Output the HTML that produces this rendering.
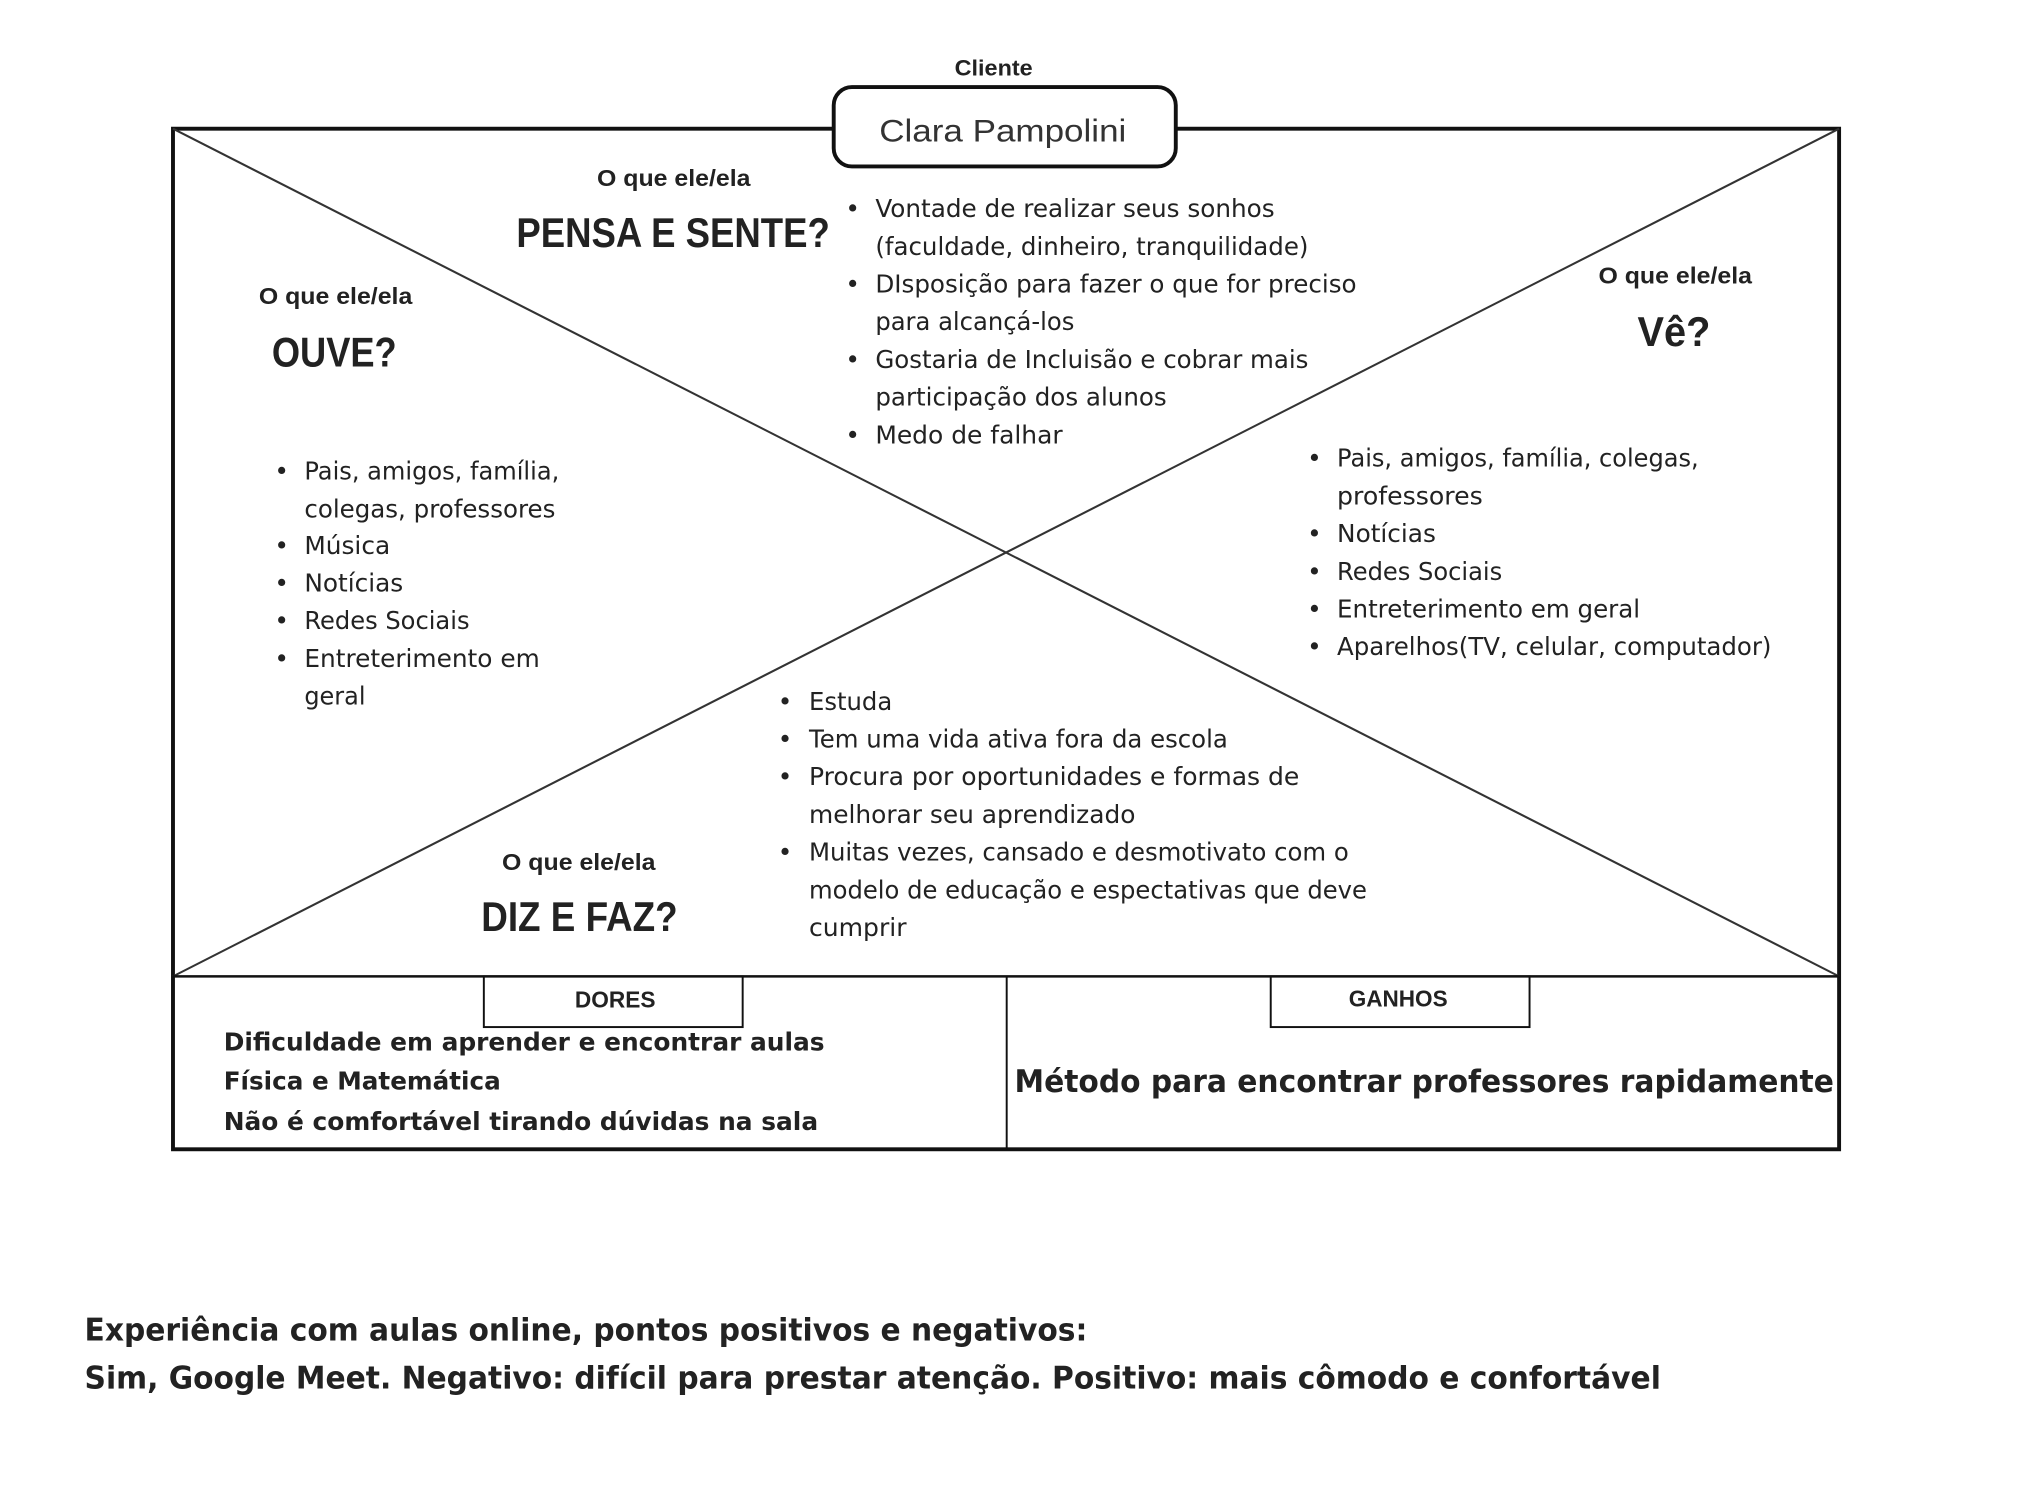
<!DOCTYPE html>
<html><head><meta charset="utf-8"><style>
html,body{margin:0;padding:0;background:#fff;}
svg{display:block;}
.h{font-family:"Liberation Sans",sans-serif;font-weight:bold;fill:#222;}
.s{font-family:"Liberation Sans",sans-serif;fill:#333;}
.b{font-family:"DejaVu Sans","Liberation Sans",sans-serif;fill:#222;font-size:19px;}
.bd{font-family:"DejaVu Sans","Liberation Sans",sans-serif;fill:#222;font-weight:bold;}
</style></head><body>
<svg width="2042" height="1499" viewBox="0 0 1570 1153" preserveAspectRatio="none" xmlns="http://www.w3.org/2000/svg">
<rect width="1570" height="1153" fill="#fff"/>
<g stroke="#111" fill="none">
<rect x="133" y="99" width="1281" height="785" stroke-width="3"/>
<line x1="133" y1="99" x2="1414" y2="751" stroke-width="1.6" stroke="#333"/>
<line x1="133" y1="751" x2="1414" y2="99" stroke-width="1.6" stroke="#333"/>
<line x1="133" y1="751" x2="1414" y2="751" stroke-width="2"/>
<line x1="774" y1="751" x2="774" y2="884" stroke-width="1.5"/>
<rect x="372" y="751" width="199" height="39" stroke-width="1.5"/>
<rect x="977" y="751" width="199" height="39" stroke-width="1.5"/>
<rect x="641" y="67" width="263" height="61" rx="14" fill="#fff" stroke-width="3"/>
</g>
<text class="h" x="764" y="58" font-size="17" text-anchor="middle" textLength="60" lengthAdjust="spacingAndGlyphs">Cliente</text>
<text class="s" x="771" y="109" font-size="24" text-anchor="middle" textLength="190" lengthAdjust="spacingAndGlyphs" fill="#222">Clara Pampolini</text>

<text class="h" x="459" y="143" font-size="18" textLength="118" lengthAdjust="spacingAndGlyphs">O que ele/ela</text>
<text class="h" x="397" y="190" font-size="32" textLength="241" lengthAdjust="spacingAndGlyphs">PENSA E SENTE?</text>
<text class="h" x="199" y="234" font-size="18" textLength="118" lengthAdjust="spacingAndGlyphs">O que ele/ela</text>
<text class="h" x="209" y="282" font-size="32" textLength="96" lengthAdjust="spacingAndGlyphs">OUVE?</text>
<text class="h" x="1229" y="218" font-size="18" textLength="118" lengthAdjust="spacingAndGlyphs">O que ele/ela</text>
<text class="h" x="1259" y="266" font-size="32" textLength="56" lengthAdjust="spacingAndGlyphs">Vê?</text>
<text class="h" x="386" y="669" font-size="18" textLength="118" lengthAdjust="spacingAndGlyphs">O que ele/ela</text>
<text class="h" x="370" y="716" font-size="32" textLength="151" lengthAdjust="spacingAndGlyphs">DIZ E FAZ?</text>
<text class="h" x="473" y="775" font-size="18" text-anchor="middle" textLength="62" lengthAdjust="spacingAndGlyphs" fill="#444">DORES</text>
<text class="h" x="1075" y="774" font-size="18" text-anchor="middle" textLength="76" lengthAdjust="spacingAndGlyphs" fill="#444">GANHOS</text>

<g class="b">
<text x="650" y="167">•</text><text x="673" y="167" textLength="307" lengthAdjust="spacingAndGlyphs">Vontade de realizar seus sonhos</text>
<text x="673" y="196" textLength="333" lengthAdjust="spacingAndGlyphs">(faculdade, dinheiro, tranquilidade)</text>
<text x="650" y="225">•</text><text x="673" y="225" textLength="370" lengthAdjust="spacingAndGlyphs">DIsposição para fazer o que for preciso</text>
<text x="673" y="254" textLength="153" lengthAdjust="spacingAndGlyphs">para alcançá-los</text>
<text x="650" y="283">•</text><text x="673" y="283" textLength="333" lengthAdjust="spacingAndGlyphs">Gostaria de Incluisão e cobrar mais</text>
<text x="673" y="312" textLength="224" lengthAdjust="spacingAndGlyphs">participação dos alunos</text>
<text x="650" y="341">•</text><text x="673" y="341" textLength="144" lengthAdjust="spacingAndGlyphs">Medo de falhar</text>

<text x="211" y="369">•</text><text x="234" y="369" textLength="196" lengthAdjust="spacingAndGlyphs">Pais, amigos, família,</text>
<text x="234" y="398" textLength="193" lengthAdjust="spacingAndGlyphs">colegas, professores</text>
<text x="211" y="426">•</text><text x="234" y="426" textLength="66" lengthAdjust="spacingAndGlyphs">Música</text>
<text x="211" y="455">•</text><text x="234" y="455" textLength="76" lengthAdjust="spacingAndGlyphs">Notícias</text>
<text x="211" y="484">•</text><text x="234" y="484" textLength="127" lengthAdjust="spacingAndGlyphs">Redes Sociais</text>
<text x="211" y="513">•</text><text x="234" y="513" textLength="181" lengthAdjust="spacingAndGlyphs">Entreterimento em</text>
<text x="234" y="542" textLength="47" lengthAdjust="spacingAndGlyphs">geral</text>

<text x="1005" y="359">•</text><text x="1028" y="359" textLength="278" lengthAdjust="spacingAndGlyphs">Pais, amigos, família, colegas,</text>
<text x="1028" y="388" textLength="112" lengthAdjust="spacingAndGlyphs">professores</text>
<text x="1005" y="417">•</text><text x="1028" y="417" textLength="76" lengthAdjust="spacingAndGlyphs">Notícias</text>
<text x="1005" y="446">•</text><text x="1028" y="446" textLength="127" lengthAdjust="spacingAndGlyphs">Redes Sociais</text>
<text x="1005" y="475">•</text><text x="1028" y="475" textLength="233" lengthAdjust="spacingAndGlyphs">Entreterimento em geral</text>
<text x="1005" y="504">•</text><text x="1028" y="504" textLength="334" lengthAdjust="spacingAndGlyphs">Aparelhos(TV, celular, computador)</text>

<text x="598" y="546">•</text><text x="622" y="546" textLength="64" lengthAdjust="spacingAndGlyphs">Estuda</text>
<text x="598" y="575">•</text><text x="622" y="575" textLength="322" lengthAdjust="spacingAndGlyphs">Tem uma vida ativa fora da escola</text>
<text x="598" y="604">•</text><text x="622" y="604" textLength="377" lengthAdjust="spacingAndGlyphs">Procura por oportunidades e formas de</text>
<text x="622" y="633" textLength="251" lengthAdjust="spacingAndGlyphs">melhorar seu aprendizado</text>
<text x="598" y="662">•</text><text x="622" y="662" textLength="415" lengthAdjust="spacingAndGlyphs">Muitas vezes, cansado e desmotivato com o</text>
<text x="622" y="691" textLength="429" lengthAdjust="spacingAndGlyphs">modelo de educação e espectativas que deve</text>
<text x="622" y="720" textLength="75" lengthAdjust="spacingAndGlyphs">cumprir</text>
</g>

<g class="bd" font-size="19">
<text x="172" y="808" textLength="462" lengthAdjust="spacingAndGlyphs">Dificuldade em aprender e encontrar aulas</text>
<text x="172" y="838" textLength="213" lengthAdjust="spacingAndGlyphs">Física e Matemática</text>
<text x="172" y="869" textLength="457" lengthAdjust="spacingAndGlyphs">Não é comfortável tirando dúvidas na sala</text>
</g>
<text class="bd" x="780" y="840" font-size="24" textLength="630" lengthAdjust="spacingAndGlyphs">Método para encontrar professores rapidamente</text>
<text class="bd" x="65" y="1031" font-size="24" textLength="771" lengthAdjust="spacingAndGlyphs">Experiência com aulas online, pontos positivos e negativos:</text>
<text class="bd" x="65" y="1068" font-size="24" textLength="1212" lengthAdjust="spacingAndGlyphs">Sim, Google Meet. Negativo: difícil para prestar atenção. Positivo: mais cômodo e confortável</text>
</svg>
</body></html>
